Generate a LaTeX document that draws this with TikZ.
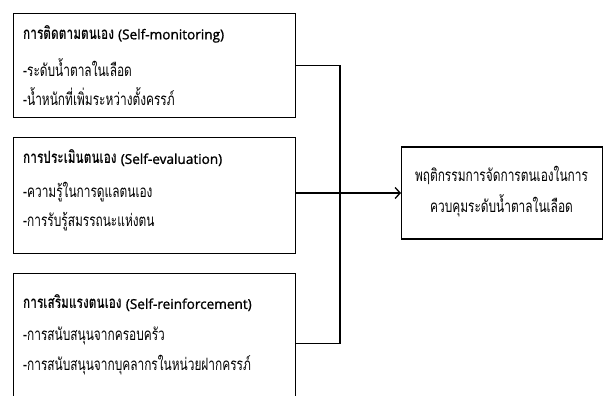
\documentclass[tikz,border=0pt]{standalone}
\usepackage{fontspec}
\setmainfont[Script=Thai, FakeStretch=0.7]{Loma}
\newfontfamily\latinfont[FakeBold=1.2]{Open Sans}
\usetikzlibrary{arrows.meta}
\tikzset{
  box/.style={draw, line width=1.3pt, minimum width=282pt, anchor=north west, inner sep=0pt},
  txt/.style={anchor=west, inner sep=0pt, font=\fontsize{17}{19}\selectfont},
  ttl/.style={txt, font=\fontsize{17}{19}\selectfont\bfseries},
  conn/.style={line width=1.3pt},
}
\newcommand{\lat}[1]{{\latinfont\mdseries\fontsize{13.6}{15}\selectfont #1}}
\begin{document}
\begin{tikzpicture}[x=1pt,y=-1pt]
\clip (0,0) rectangle (616,396);
\path[use as bounding box] (0,0) rectangle (616,396);
\node[box, minimum height=104pt] (b1) at (13,13) {};
\node[box, minimum height=116pt] (b2) at (13,137) {};
\node[box, minimum height=140pt] (b3) at (13,273) {};
\node[draw, line width=1.3pt, minimum width=201pt, minimum height=92pt, anchor=west, inner sep=0pt] (res) at (401,193) {};
\node[ttl] (t1) at (23,34) {การติดตามตนเอง \lat{(Self-monitoring)}};
\node[txt] (t1a) at (23,68) {-ระดับน้ำตาลในเลือด};
\node[txt] (t1b) at (23,97) {-น้ำหนักที่เพิ่มระหว่างตั้งครรภ์};
\node[ttl] (t2) at (23,158) {การประเมินตนเอง \lat{(Self-evaluation)}};
\node[txt] (t2a) at (23,192) {-ความรู้ในการดูแลตนเอง};
\node[txt] (t2b) at (23,222) {-การรับรู้สมรรถนะแห่งตน};
\node[ttl] (t3) at (23,303) {การเสริมแรงตนเอง \lat{(Self-reinforcement)}};
\node[txt] (t3a) at (23,336) {-การสนับสนุนจากครอบครัว};
\node[txt] (t3b) at (23,365) {-การสนับสนุนจากบุคลากรในหน่วยฝากครรภ์};
\node[txt, anchor=center, align=center] (rt) at (501.5,191.5) {พฤติกรรมการจัดการตนเองในการ\\[9pt]ควบคุมระดับน้ำตาลในเลือด};
\coordinate (j) at (340,193);
\draw[conn] (b1.east) -| (j);
\draw[conn] (b3.east) -| (j);
\draw[conn, -{Straight Barb[length=5pt, width=11pt, line width=1.3pt]}] (b2.east |- res.west) -- (res.west);
\end{tikzpicture}
\end{document}
